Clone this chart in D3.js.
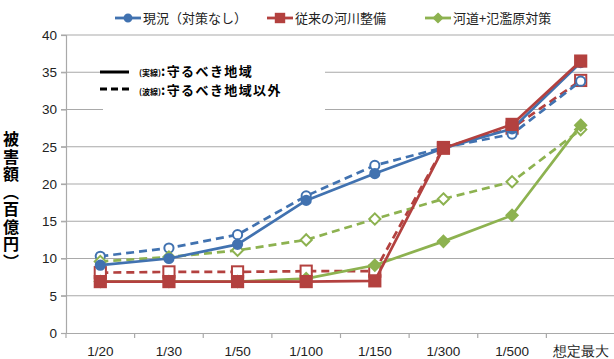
<!DOCTYPE html>
<html>
<head>
<meta charset="utf-8">
<script src="https://cdn.jsdelivr.net/npm/d3@7"></script>
<style>
  html, body { margin: 0; padding: 0; background: #fff; }
  svg { display: block; }
  .tick text { font-family: "Liberation Sans", "Noto Sans", sans-serif; }
</style>
</head>
<body>
<svg id="chart" width="614" height="359"></svg>
<script>
// Return periods (flood scale) on the x axis
const categories = ["1/20", "1/30", "1/50", "1/100", "1/150", "1/300", "1/500", "想定最大"];
const yTicks = [0, 5, 10, 15, 20, 25, 30, 35, 40];

// Damage amounts (hundred-million yen): solid = protected area, dashed = outside it
const genjoSolid   = [9.1, 10.0, 11.9, 17.8, 21.4, 24.8, 27.4, 36.3];
const genjoDashed  = [10.3, 11.4, 13.2, 18.4, 22.5, 24.9, 26.7, 33.8];
const juraiSolid   = [6.9, 6.9, 6.9, 6.9, 7.0, 24.8, 28.0, 36.5];
const juraiDashed  = [8.1, 8.2, 8.2, 8.3, 8.3, 24.9, 27.5, 33.9];
const hanranSolid  = [6.9, 6.9, 6.9, 7.3, 9.1, 12.3, 15.8, 27.9];
const hanranDashed = [9.6, 10.2, 11.1, 12.5, 15.3, 18.0, 20.3, 27.3];

const seriesNames = ["現況（対策なし）", "従来の河川整備", "河道+氾濫原対策"];
const yTitle = "被害額（百億円）";

const BLUE = "#4172b0", RED = "#b3413f", GREEN = "#8db250";

const series = [
  { values: juraiDashed,  color: RED,   shape: "square",  dashed: true },
  { values: genjoDashed,  color: BLUE,  shape: "circle",  dashed: true },
  { values: hanranDashed, color: GREEN, shape: "diamond", dashed: true },
  { values: hanranSolid,  color: GREEN, shape: "diamond", dashed: false },
  { values: genjoSolid,   color: BLUE,  shape: "circle",  dashed: false },
  { values: juraiSolid,   color: RED,   shape: "square",  dashed: false }
];

const svg = d3.select("#chart");
const plot = { left: 66, right: 615, top: 35, bottom: 333 };

const x = d3.scaleBand().domain(categories).range([plot.left, plot.right]);
const y = d3.scaleLinear().domain([0, 40]).range([plot.bottom, plot.top]);

// Horizontal gridlines
svg.append("g")
  .selectAll("line")
  .data(yTicks.filter(d => d > 0))
  .join("line")
  .attr("x1", plot.left - 5).attr("x2", plot.right)
  .attr("y1", d => y(d)).attr("y2", d => y(d))
  .attr("stroke", "#a9a9a9").attr("stroke-width", 1.2);

// Y axis
const yAxis = svg.append("g")
  .attr("transform", `translate(${plot.left},0)`)
  .call(d3.axisLeft(y).tickValues(yTicks).tickSize(5).tickPadding(4));
yAxis.select(".domain").attr("stroke", "#a9a9a9").attr("stroke-width", 1.2);
yAxis.selectAll(".tick line").attr("stroke", "#a9a9a9").attr("stroke-width", 1.2);
yAxis.selectAll(".tick text").attr("font-size", 13.5).attr("fill", "#222");

// X axis with ticks between categories
const xAxis = svg.append("g")
  .attr("transform", `translate(0,${plot.bottom})`)
  .call(d3.axisBottom(x).tickSize(0).tickPadding(13));
xAxis.select(".domain").attr("stroke", "#a9a9a9").attr("stroke-width", 1.2);
xAxis.selectAll(".tick text").attr("font-size", 13.5).attr("fill", "#222")
  .attr("font-family", d => d === "想定最大" ? "'Noto Sans CJK JP', sans-serif" : "'Liberation Sans', sans-serif");
svg.append("g")
  .selectAll("line")
  .data(categories)
  .join("line")
  .attr("x1", d => x(d)).attr("x2", d => x(d))
  .attr("y1", plot.bottom).attr("y2", plot.bottom + 5)
  .attr("stroke", "#a9a9a9").attr("stroke-width", 1.2);

// White panel holding the line-style key
svg.append("rect")
  .attr("x", 103).attr("y", 40).attr("width", 222).attr("height", 71)
  .attr("fill", "#fff");

// Marker drawing
function marker(g, shape, cx, cy, color, filled, size) {
  const s = size || 1;
  const fill = filled ? color : "#fff";
  if (shape === "circle") {
    g.append("circle").attr("cx", cx).attr("cy", cy).attr("r", 4.6 * s)
      .attr("fill", fill).attr("stroke", color).attr("stroke-width", 2);
  } else if (shape === "square") {
    const h = 5.6 * s;
    g.append("rect").attr("x", cx - h).attr("y", cy - h).attr("width", 2 * h).attr("height", 2 * h)
      .attr("fill", fill).attr("stroke", color).attr("stroke-width", 2);
  } else {
    const h = 5.6 * s;
    g.append("path")
      .attr("d", `M${cx},${cy - h}L${cx + h},${cy}L${cx},${cy + h}L${cx - h},${cy}Z`)
      .attr("fill", fill).attr("stroke", color).attr("stroke-width", 2);
  }
}

const line = d3.line()
  .x((d, i) => x(categories[i]) + x.bandwidth() / 2)
  .y(d => y(d));

series.forEach(s => {
  const g = svg.append("g");
  g.append("path")
    .attr("d", line(s.values))
    .attr("fill", "none")
    .attr("stroke", s.color)
    .attr("stroke-width", 2.7)
    .attr("stroke-linejoin", "round")
    .attr("stroke-dasharray", s.dashed ? "8,5" : null);
  s.values.forEach((v, i) => {
    marker(g, s.shape, x(categories[i]) + x.bandwidth() / 2, y(v), s.color, !s.dashed);
  });
});

// Series legend
const legendItems = [
  { name: seriesNames[0], color: BLUE,  shape: "circle",  x: 115 },
  { name: seriesNames[1], color: RED,   shape: "square",  x: 267 },
  { name: seriesNames[2], color: GREEN, shape: "diamond", x: 425 }
];
legendItems.forEach(it => {
  const g = svg.append("g");
  g.append("line").attr("x1", it.x).attr("x2", it.x + 26).attr("y1", 18).attr("y2", 18)
    .attr("stroke", it.color).attr("stroke-width", 2.8);
  marker(g, it.shape, it.x + 13, 18, it.color, true, 0.75);
  g.append("text").attr("x", it.x + 28).attr("y", 23)
    .attr("font-family", "'Noto Sans CJK JP', sans-serif").attr("font-size", 13)
    .attr("fill", "#222").text(it.name);
});

// Line-style key
const key = svg.append("g");
key.append("line").attr("x1", 100).attr("x2", 129).attr("y1", 72).attr("y2", 72)
  .attr("stroke", "#000").attr("stroke-width", 3);
key.append("line").attr("x1", 100).attr("x2", 129).attr("y1", 89).attr("y2", 89)
  .attr("stroke", "#000").attr("stroke-width", 3).attr("stroke-dasharray", "7,4");
[
  { small: "(実線)", big: ":守るべき地域", y: 76 },
  { small: "(波線)", big: ":守るべき地域以外", y: 95 }
].forEach(k => {
  const t = key.append("text").attr("x", 139).attr("y", k.y)
    .attr("font-family", "'Noto Sans CJK JP', sans-serif")
    .attr("font-size", 13).attr("font-weight", "bold").attr("fill", "#000");
  t.append("tspan").attr("font-size", 8).text(k.small);
  t.append("tspan").attr("font-size", 13).attr("letter-spacing", 1.4).text(k.big);
});

// Vertical axis title set in vertical writing mode
svg.append("text")
  .attr("x", 11).attr("y", 131)
  .style("writing-mode", "vertical-rl")
  .style("text-orientation", "upright")
  .style("letter-spacing", "1.5px")
  .attr("font-family", "'Noto Sans CJK JP', sans-serif")
  .attr("font-weight", "bold").attr("font-size", 16)
  .attr("fill", "#000")
  .text(yTitle);
</script>
</body>
</html>
